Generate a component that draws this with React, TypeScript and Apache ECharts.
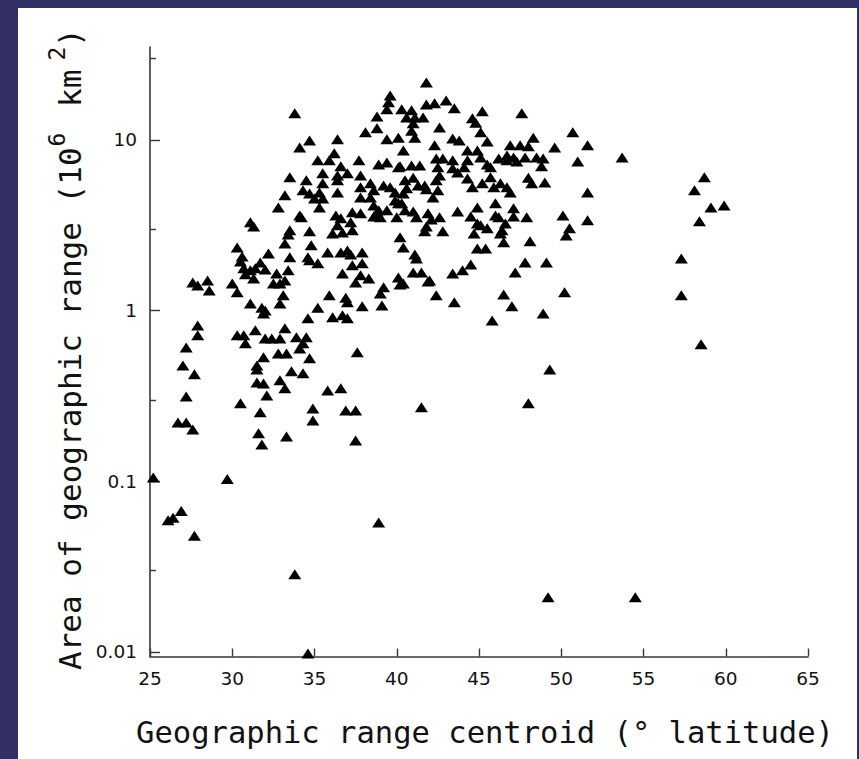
import React, { useEffect, useRef } from "react";
import * as echarts from "echarts";

// Geographic range centroid (degrees latitude) of each species
const centroidLatitude = [
  25.2, 26.1, 26.4, 26.9, 27.7, 26.7, 27.2, 27.6, 27.2, 27.0, 27.7, 27.2, 27.9, 27.9, 27.6, 27.9, 28.5, 28.6, 29.7, 30.0,
  30.3, 30.3, 30.6, 30.5, 30.3, 30.7, 30.8, 30.5, 31.1, 31.3, 30.7, 31.1, 30.8, 31.4, 31.7, 32.0, 31.3, 31.1, 31.8, 32.0,
  31.9, 31.4, 32.0, 32.4, 32.9, 33.2, 32.8, 33.3, 31.9, 31.5, 31.5, 31.5, 31.9, 32.1, 32.9, 33.2, 31.7, 31.6, 31.8, 33.3,
  32.2, 33.2, 33.5, 33.4, 32.7, 32.5, 32.9, 33.2, 33.1, 32.9, 33.8, 34.1, 33.5, 33.2, 32.8, 33.5, 33.4, 33.9, 33.6, 33.8,
  34.7, 34.5, 34.3, 34.7, 35.0, 35.5, 35.3, 34.1, 34.2, 34.7, 34.8, 34.6, 34.7, 35.2, 35.8, 34.5, 34.3, 34.1, 34.7, 34.3,
  35.2, 34.6, 34.9, 34.9, 34.6, 35.2, 35.9, 36.2, 36.6, 37.0, 36.4, 35.5, 36.4, 36.4, 35.3, 35.5, 36.4, 37.3, 37.8, 37.2,
  36.6, 36.4, 36.7, 37.3, 36.1, 36.3, 36.6, 37.0, 37.2, 37.9, 37.3, 37.9, 36.7, 37.8, 38.3, 37.5, 35.9, 36.9, 37.0, 37.9,
  36.1, 36.7, 37.0, 35.8, 36.6, 36.9, 37.5, 37.6, 37.5, 37.7, 37.8, 37.8, 38.4, 38.6, 37.8, 38.4, 38.6, 38.9, 38.6, 38.1,
  38.8, 38.8, 39.6, 39.5, 39.4, 39.4, 40.1, 38.9, 39.4, 40.2, 39.2, 39.6, 39.9, 39.9, 39.4, 40.1, 38.8, 39.0, 40.0, 40.2,
  40.4, 39.2, 39.0, 39.1, 40.1, 40.2, 38.9, 40.3, 40.9, 40.6, 41.1, 41.6, 41.0, 40.9, 41.1, 40.4, 40.1, 40.9, 41.4, 40.5,
  41.0, 40.6, 41.3, 40.4, 41.0, 41.2, 40.5, 40.3, 41.1, 41.2, 41.0, 41.5, 42.0, 40.4, 41.5, 41.8, 41.8, 42.3, 43.0, 43.5,
  42.6, 42.3, 43.4, 43.8, 42.4, 42.8, 42.5, 42.6, 42.4, 41.7, 41.8, 42.5, 42.2, 41.9, 42.6, 42.1, 41.8, 41.7, 42.8, 43.4,
  43.7, 44.1, 43.4, 44.3, 44.9, 45.1, 44.3, 44.6, 44.8, 45.1, 44.3, 44.6, 45.2, 45.7, 43.7, 44.5, 44.9, 44.9, 44.7, 45.1,
  43.4, 44.0, 44.5, 44.9, 45.4, 42.4, 43.5, 41.9, 45.2, 45.5, 45.5, 45.7, 46.2, 46.7, 46.7, 46.9, 47.5, 48.0, 48.3, 47.6,
  47.1, 47.8, 48.5, 48.9, 48.8, 47.3, 45.9, 46.3, 46.7, 46.9, 48.0, 48.2, 49.0, 46.0, 46.0, 47.1, 47.1, 46.2, 47.9, 45.5,
  46.4, 46.6, 46.3, 46.5, 48.1, 47.2, 47.8, 49.1, 46.5, 47.0, 48.9, 45.8, 48.0, 49.3, 49.2, 49.6, 50.7, 51.6, 51.0, 51.6,
  50.1, 51.6, 50.5, 50.3, 50.2, 53.7, 54.5, 57.3, 57.3, 58.5, 58.7, 58.1, 59.1, 59.9, 58.4,
];

// Area of geographic range (10^6 km^2) of each species
const rangeArea = [
  0.105, 0.059, 0.061, 0.067, 0.048, 0.221, 0.221, 0.201, 0.314, 0.477, 0.423, 0.608, 0.818, 0.716, 1.46, 1.4, 1.5, 1.31, 0.103, 1.44,
  1.28, 2.34, 2.07, 1.94, 0.716, 0.716, 0.643, 0.286, 3.29, 3.11, 1.77, 1.72, 1.63, 1.77, 1.91, 1.74, 1.54, 1.1, 1.04, 1.0,
  0.962, 0.766, 0.687, 0.687, 0.687, 0.787, 0.561, 0.561, 0.532, 0.477, 0.452, 0.379, 0.374, 0.318, 0.39, 0.35, 0.254, 0.191, 0.164, 0.183,
  2.16, 2.47, 2.05, 1.72, 1.65, 1.44, 1.44, 1.5, 1.23, 1.1, 14.3, 9.03, 6.03, 4.73, 4.02, 2.95, 2.79, 0.697, 0.441, 0.0285,
  9.93, 5.79, 5.06, 4.85, 4.54, 4.54, 4.02, 3.61, 3.52, 2.91, 2.41, 2.05, 1.97, 1.89, 2.19, 0.697, 0.643, 0.6, 0.525, 0.429,
  1.04, 0.9, 0.267, 0.227, 0.0098, 7.59, 7.59, 8.34, 7.0, 6.37, 6.19, 6.37, 5.79, 4.92, 4.92, 5.56, 10.1, 3.76, 3.71, 3.29,
  3.47, 3.16, 2.87, 2.95, 2.83, 3.61, 2.19, 2.25, 2.13, 2.19, 1.84, 1.89, 1.65, 1.61, 1.54, 1.46, 1.23, 1.19, 1.12, 1.06,
  0.912, 0.938, 0.9, 0.34, 0.35, 0.26, 0.26, 0.569, 0.173, 7.59, 6.19, 5.27, 5.56, 5.06, 4.6, 4.6, 4.13, 3.87, 3.56, 11.1,
  13.7, 11.7, 18.2, 16.6, 15.1, 10.1, 10.3, 7.18, 7.38, 7.0, 5.41, 5.27, 4.92, 4.42, 3.87, 4.25, 3.76, 3.52, 3.52, 2.69,
  2.34, 1.37, 1.26, 1.07, 1.56, 1.42, 0.0574, 15.1, 14.9, 13.5, 13.5, 13.5, 12.5, 11.3, 10.3, 8.67, 6.9, 7.08, 7.08, 5.79,
  6.0, 5.2, 5.41, 4.85, 3.81, 3.52, 3.87, 4.25, 2.13, 2.02, 1.67, 1.67, 1.5, 1.44, 0.271, 21.7, 16.1, 16.4, 17.0, 15.3,
  11.8, 9.29, 10.2, 9.93, 7.78, 7.78, 6.9, 6.19, 5.79, 5.41, 5.13, 5.06, 4.6, 3.71, 3.52, 3.42, 3.11, 2.91, 2.91, 6.81,
  6.44, 6.9, 7.59, 8.67, 8.67, 7.89, 7.59, 13.4, 12.6, 11.1, 5.94, 5.27, 5.56, 6.03, 3.81, 3.56, 4.02, 3.24, 2.83, 3.16,
  1.65, 1.72, 1.86, 2.31, 2.31, 1.23, 1.12, 1.48, 14.7, 9.79, 7.18, 6.9, 7.78, 7.59, 8.11, 9.29, 9.29, 9.16, 10.3, 14.3,
  7.89, 7.89, 7.89, 7.78, 7.0, 7.48, 5.27, 5.56, 5.27, 4.92, 6.0, 5.56, 5.63, 4.25, 3.61, 3.97, 3.56, 3.52, 3.52, 3.03,
  2.95, 3.24, 2.83, 2.51, 2.55, 1.67, 1.91, 1.91, 1.24, 1.06, 0.962, 0.875, 0.286, 0.452, 0.0209, 9.03, 11.1, 9.29, 7.48, 4.92,
  3.61, 3.38, 3.03, 2.75, 1.28, 7.89, 0.0209, 2.02, 1.23, 0.634, 6.03, 5.06, 4.02, 4.13, 3.33,
];

const xTicks = [25, 30, 35, 40, 45, 50, 55, 60, 65];
const yMajorTicks = [0.01, 0.1, 1, 10];
const yMajorLabels = ["0.01", "0.1", "1", "10"];
const yMinorTicks = [0.03, 0.3, 3, 30];

const X_TITLE = "Geographic range centroid (\u00B0 latitude)";
const Y_TITLE_MAIN = "Area of geographic range (10";
const Y_TITLE_SUP1 = "6";
const Y_TITLE_MID = "km";
const Y_TITLE_SUP2 = "2";
const Y_TITLE_END = ")";

const MONO = '"DejaVu Sans Mono", monospace';
const SANS = '"DejaVu Sans", sans-serif';
const INK = "#121212";
const AXIS = "#383838";

export default function App() {
  const ref = useRef<HTMLDivElement | null>(null);

  useEffect(() => {
    if (!ref.current) return;
    const chart = echarts.init(ref.current, null, { renderer: "svg" });
    const data = centroidLatitude.map((lat, i) => [lat, rangeArea[i]]);

    const yFont = 31;
    const supFont = 23;

    const txt = (text: string, x: number, y: number, size: number) => ({
      type: "text",
      x,
      y,
      style: {
        text,
        font: `${size}px ${MONO}`,
        fill: INK,
        align: "left",
        textAlign: "left",
        verticalAlign: "middle",
        textVerticalAlign: "middle",
      },
    });

    const yAxisBase = {
      type: "log",
      logBase: 10,
      min: 0.0094,
      max: 35,
      position: "left",
      splitLine: { show: false },
    };

    chart.setOption({
      animation: false,
      backgroundColor: "#ffffff",
      grid: {
        left: 132,
        top: 39,
        width: 658,
        height: 609.5,
        containLabel: false,
        outerBoundsMode: "none",
      },
      xAxis: {
        type: "value",
        min: 25,
        max: 65,
        interval: 5,
        splitLine: { show: false },
        axisLine: { show: true, onZero: false, lineStyle: { color: AXIS, width: 1.6 } },
        axisTick: {
          show: true,
          inside: true,
          length: 8,
          customValues: xTicks,
          lineStyle: { color: AXIS, width: 1.4 },
        },
        axisLabel: {
          show: true,
          margin: 12,
          color: INK,
          fontFamily: SANS,
          fontSize: 18.5,
          customValues: xTicks,
          formatter: (v: number) => String(Math.round(v)),
        },
      },
      yAxis: [
        {
          ...yAxisBase,
          axisLine: { show: true, lineStyle: { color: AXIS, width: 1.6 } },
          axisTick: {
            show: true,
            inside: true,
            length: 10,
            customValues: yMajorTicks,
            lineStyle: { color: AXIS, width: 1.4 },
          },
          axisLabel: {
            show: true,
            margin: 13,
            color: INK,
            fontFamily: SANS,
            fontSize: 18.5,
            customValues: yMajorTicks,
            formatter: (v: number) => {
              const idx = yMajorTicks.findIndex(
                (t) => Math.abs(Math.log10(t) - Math.log10(v)) < 1e-6
              );
              return idx >= 0 ? yMajorLabels[idx] : "";
            },
          },
        },
        {
          ...yAxisBase,
          axisLine: { show: false },
          axisLabel: { show: false },
          axisTick: {
            show: true,
            inside: true,
            length: 6,
            customValues: yMinorTicks,
            lineStyle: { color: AXIS, width: 1.4 },
          },
        },
      ],
      series: [
        {
          type: "scatter",
          xAxisIndex: 0,
          yAxisIndex: 0,
          data,
          symbol: "triangle",
          symbolSize: [13, 10],
          itemStyle: { color: "#000000", opacity: 1 },
          silent: true,
        },
      ],
      graphic: [
        {
          type: "text",
          x: 467,
          y: 724,
          style: {
            text: X_TITLE,
            font: `30.5px ${MONO}`,
            fill: INK,
            align: "center",
            textAlign: "center",
            verticalAlign: "middle",
            textVerticalAlign: "middle",
          },
        },
        {
          type: "group",
          x: 52,
          y: 662,
          rotation: Math.PI / 2,
          children: [
            txt(Y_TITLE_MAIN, 0, 0, yFont),
            txt(Y_TITLE_SUP1, 523.5, -13, supFont),
            txt(Y_TITLE_MID, 563, 0, yFont),
            txt(Y_TITLE_SUP2, 609.5, -13, supFont),
            txt(Y_TITLE_END, 623, 0, yFont),
          ],
        },
      ],
    });

    return () => {
      chart.dispose();
    };
  }, []);

  return (
    <div
      style={{
        position: "fixed",
        left: 0,
        top: 0,
        width: 859,
        height: 759,
        background: "#312f64",
        overflow: "hidden",
      }}
    >
      <div
        style={{
          position: "absolute",
          left: 18,
          top: 8,
          width: 839,
          height: 751,
          background: "#ffffff",
        }}
      >
        <div ref={ref} style={{ width: 839, height: 751 }} />
      </div>
    </div>
  );
}
